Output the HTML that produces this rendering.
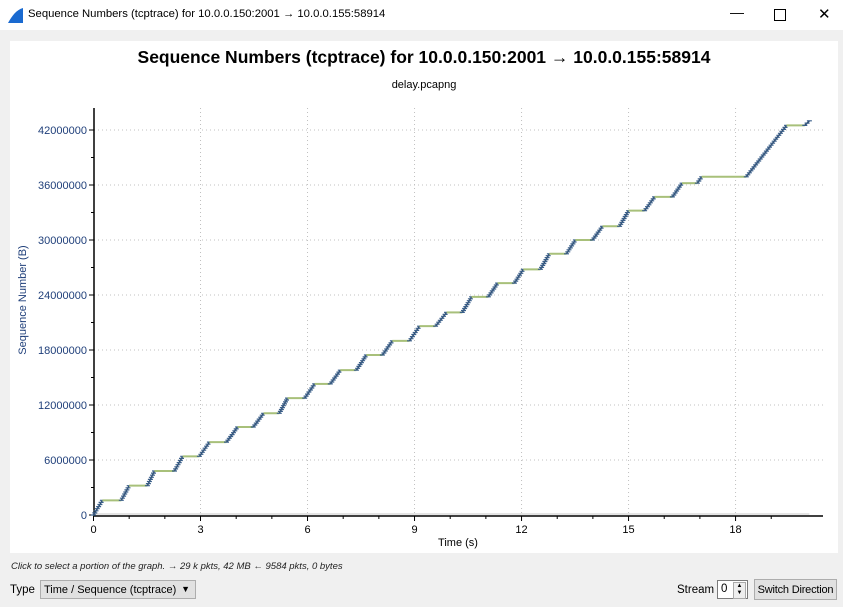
<!DOCTYPE html>
<html><head><meta charset="utf-8">
<style>
body{margin:0;width:843px;height:607px;background:#f0f0f0;font-family:"Liberation Sans",sans-serif;overflow:hidden;position:relative}
.tb{position:absolute;left:0;top:0;width:843px;height:30px;background:#fff;font-size:11.3px}
.small{font-size:9.5px;font-style:italic;position:absolute;left:11px;top:561px;color:#222;white-space:nowrap}
</style></head><body>
<div class="tb">
 <svg width="20" height="20" style="position:absolute;left:6px;top:6px"><path d="M2 17 C6 10 10 4 17 2 L17 17 Z" fill="#1a6ad0"/></svg>
 <span style="position:absolute;left:28px;top:8px;white-space:nowrap">Sequence Numbers (tcptrace) for 10.0.0.150:2001 → 10.0.0.155:58914</span>
 <span style="position:absolute;left:730px;top:4px;font-size:14px">—</span>
 <span style="position:absolute;left:774px;top:9px;width:10px;height:10px;border:1px solid #000"></span>
 <span style="position:absolute;left:818px;top:5px;font-size:15px">✕</span>
</div>
<svg id="chart" width="843" height="607" style="position:absolute;left:0;top:0">
 <rect x="10" y="41" width="828" height="512" fill="#fff"/>
 <text x="424" y="63" text-anchor="middle" font-size="17.5" font-weight="bold">Sequence Numbers (tcptrace) for 10.0.0.150:2001 → 10.0.0.155:58914</text>
 <text x="424" y="88" text-anchor="middle" font-size="11">delay.pcapng</text>
 <text transform="translate(26,300) rotate(-90)" text-anchor="middle" font-size="11" fill="#1f3f7a">Sequence Number (B)</text>
 <text x="458" y="546" text-anchor="middle" font-size="11">Time (s)</text>
 <g id="grid"></g><g id="axes"></g><g id="series"></g>
</svg>
<div class="small">Click to select a portion of the graph. → 29 k pkts, 42 MB ← 9584 pkts, 0 bytes</div>
<span style="position:absolute;left:10px;top:584px;font-size:11.5px">Type</span>
<div style="position:absolute;left:40px;top:580px;width:156px;height:19px;border:1px solid #adadad;background:#e1e1e1;font-size:11px;box-sizing:border-box;padding:3px 3px;white-space:nowrap">Time / Sequence (tcptrace)<span style="position:absolute;right:5px;top:3px;font-size:9px">▼</span></div>
<span style="position:absolute;left:677px;top:584px;font-size:11.5px">Stream</span>
<div style="position:absolute;left:717px;top:580px;width:31px;height:19px;border:1px solid #7a7a7a;background:#fff;font-size:11.5px;box-sizing:border-box;padding:2px 3px">0<span style="position:absolute;right:1px;top:1px;width:11px;height:15px;border:1px solid #aaa;background:#eee;font-size:6px;line-height:7px;text-align:center">▲<br>▼</span></div>
<div style="position:absolute;left:754px;top:579px;width:83px;height:21px;border:1px solid #adadad;background:#e1e1e1;font-size:11px;box-sizing:border-box;padding:4px 0;text-align:center;white-space:nowrap;letter-spacing:-0.2px">Switch Direction</div>
<script>
const plateauStart=[0.25,1.0,1.71,2.5,3.25,4.04,4.77,5.44,6.2,6.92,7.65,8.38,9.14,9.9,10.6,11.33,12.05,12.78,13.51,14.27,15.0,15.73,16.5,17.05,19.43];
const plateauEnd=[0.78,1.51,2.27,2.97,3.73,4.48,5.21,5.92,6.64,7.37,8.1,8.86,9.59,10.34,11.07,11.8,12.53,13.26,13.99,14.75,15.45,16.23,16.93,18.3,19.94];
const plateauSeq=[1.6e6,3.2e6,4.8e6,6.4e6,7.95e6,9.6e6,11.1e6,12.75e6,14.3e6,15.8e6,17.45e6,19.0e6,20.6e6,22.1e6,23.8e6,25.3e6,26.8e6,28.5e6,30.0e6,31.5e6,33.2e6,34.7e6,36.2e6,36.9e6,42.5e6];
const finalPoint=[20.07,43.0e6];
const xTicks=[0,3,6,9,12,15,18];
const yTicks=[0,6000000,12000000,18000000,24000000,30000000,36000000,42000000];
const NS="http://www.w3.org/2000/svg";
const X=t=>93.5+t*35.67, Y=v=>515-v*55/6e6;
const L=94,R=823,T=108,B=516;
function mk(p,tag,a){const e=document.createElementNS(NS,tag);for(const k in a)e.setAttribute(k,a[k]);p.appendChild(e);return e;}
const g=document.getElementById('grid'),ax=document.getElementById('axes'),s=document.getElementById('series');
xTicks.forEach(t=>{const x=X(t);
 if(t>0){const gl=mk(g,'line',{x1:x,x2:x,y1:T,y2:B,stroke:'#c0c0c0','stroke-dasharray':'1,3'});
 
 }
 mk(ax,'line',{x1:x,x2:x,y1:B,y2:B+5,stroke:'#000'});
 const tx=mk(ax,'text',{x:x,y:B+17,'text-anchor':'middle','font-size':11});tx.textContent=t;
 
 });
for(let t=1;t<20;t++){if(t%3)mk(ax,'line',{x1:X(t),x2:X(t),y1:B,y2:B+3,stroke:'#000'});}
yTicks.forEach(v=>{const y=Y(v);
 if(v>0){const gl=mk(g,'line',{x1:L,x2:R,y1:y,y2:y,stroke:'#c0c0c0','stroke-dasharray':'1,3'});
 
 }
 mk(ax,'line',{x1:L-5,x2:L,y1:y,y2:y,stroke:'#000'});
 const tx=mk(ax,'text',{x:L-7,y:y+4,'text-anchor':'end','font-size':11,fill:'#1f3f7a'});tx.textContent=v;
 
 });
for(let v=3e6;v<44e6;v+=6e6)mk(ax,'line',{x1:L-3,x2:L,y1:Y(v),y2:Y(v),stroke:'#000'});
mk(ax,'line',{x1:L,x2:L,y1:T,y2:B,stroke:'#000','stroke-width':1.5});
mk(ax,'line',{x1:L,x2:R,y1:B,y2:B,stroke:'#000','stroke-width':1.5});
mk(s,'line',{x1:L,x2:X(finalPoint[0]),y1:B-2,y2:B-2,stroke:'#c8c8c8'});
let pt=0,pv=0;
for(let i=0;i<=plateauStart.length;i++){
 const st=i<plateauStart.length?plateauStart[i]:finalPoint[0];
 const sv=i<plateauStart.length?plateauSeq[i]:finalPoint[1];
 const x0=X(pt),y0=Y(pv),x1=X(st),y1=Y(sv);
 const rl=mk(s,'line',{x1:x0,y1:y0,x2:x1,y2:y1,stroke:'#2e4a6a','stroke-width':1.5});
 
 
 const n=Math.max(2,Math.round((y0-y1)/2));
 let d='';
 for(let k=0;k<=n;k++){const x=x0+(x1-x0)*k/n,y=y0+(y1-y0)*k/n;d+=`M${(x-2.5).toFixed(1)} ${y.toFixed(1)}h5`;}
 const m=mk(s,'path',{d:d,stroke:'#3a5f8a','stroke-width':1.2,fill:'none'});
 
 
 if(i<plateauStart.length){
  const pl=mk(s,'line',{x1:x1,y1:y1,x2:X(plateauEnd[i]),y2:y1,stroke:'#a8c07a','stroke-width':2});
  
  
  pt=plateauEnd[i];pv=sv;}
}
</script>
</body></html>
